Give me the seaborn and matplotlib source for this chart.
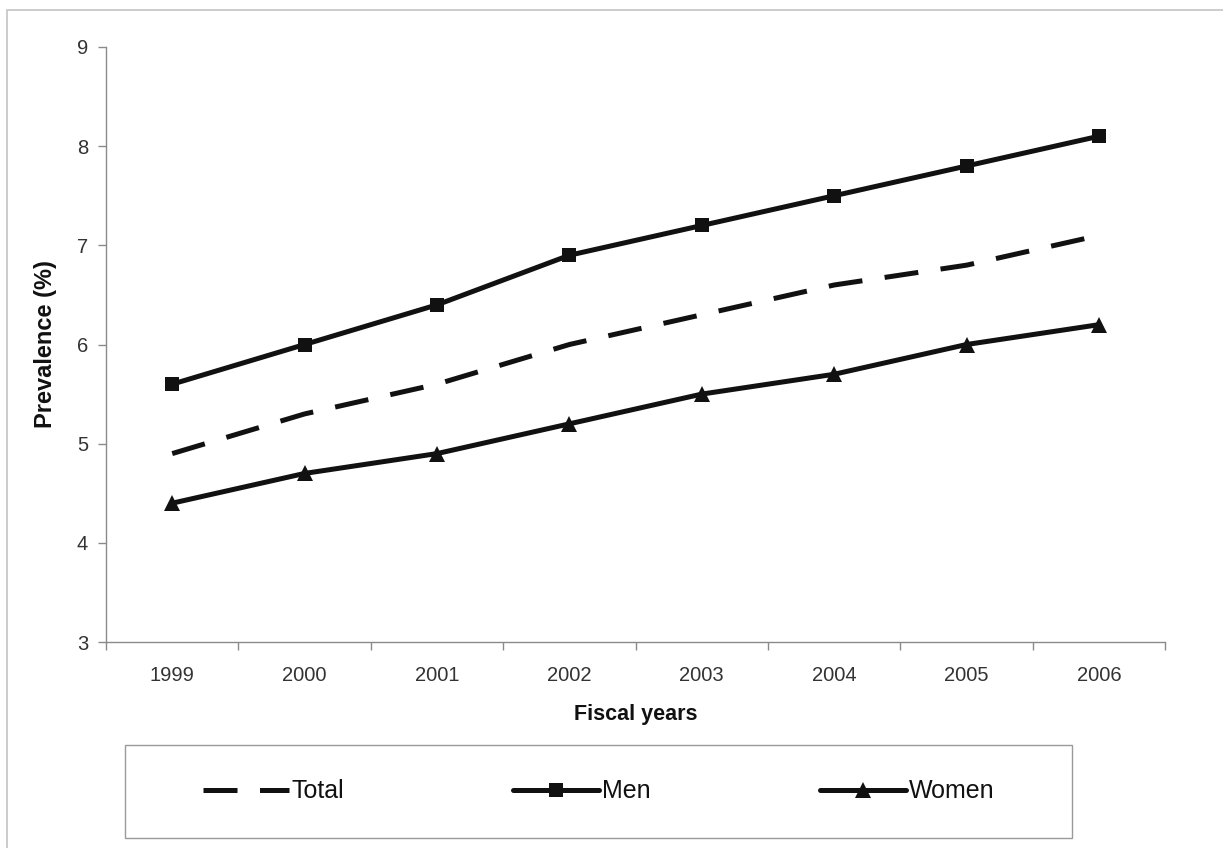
import matplotlib
matplotlib.use("Agg")
import matplotlib.pyplot as plt
from matplotlib.patches import Rectangle
from matplotlib.lines import Line2D
import seaborn as sns
import pandas as pd

# Prevalence by fiscal year (%)
years = [1999, 2000, 2001, 2002, 2003, 2004, 2005, 2006]
total = [4.9, 5.3, 5.6, 6.0, 6.3, 6.6, 6.8, 7.1]
men = [5.6, 6.0, 6.4, 6.9, 7.2, 7.5, 7.8, 8.1]
women = [4.4, 4.7, 4.9, 5.2, 5.5, 5.7, 6.0, 6.2]
series_names = ["Total", "Men", "Women"]
y_ticks = [3, 4, 5, 6, 7, 8, 9]

df = pd.DataFrame({
    "year": years * 3,
    "value": total + men + women,
    "series": [s for s in series_names for _ in years],
})

sns.set_theme(style="white")
plt.rcParams["font.family"] = ["Liberation Sans", "DejaVu Sans"]

fig = plt.figure(figsize=(12.23, 8.48), dpi=100)
ax = fig.add_axes([0.0867, 0.2429, 0.866, 0.7017])

ink = "#111111"
lw = 3.6
dash = (0, (6.8, 4.5))
styles = {
    "Total": dict(marker=None, linestyle=dash, markersize=0),
    "Men": dict(marker="s", linestyle="-", markersize=10.5),
    "Women": dict(marker="^", linestyle="-", markersize=11.5),
}

handles = []
for name in series_names:
    st = styles[name]
    sub = df[df["series"] == name]
    sns.lineplot(data=sub, x="year", y="value", color=ink, linewidth=lw,
                 marker=st["marker"], markersize=st["markersize"],
                 markeredgewidth=0, linestyle=st["linestyle"], ax=ax)
    handles.append(Line2D([], [], color=ink, linewidth=lw, linestyle=st["linestyle"],
                          marker=st["marker"], markersize=st["markersize"],
                          markeredgewidth=0))

ax.set_xlim(years[0] - 0.5, years[-1] + 0.5)
ax.set_ylim(y_ticks[0], y_ticks[-1])
ax.set_yticks(y_ticks)
ax.set_xticks(years)
ax.set_xticks([y - 0.5 for y in years] + [years[-1] + 0.5], minor=True)

for side in ["top", "right"]:
    ax.spines[side].set_visible(False)
for side in ["left", "bottom"]:
    ax.spines[side].set_color("#8a8a8a")
    ax.spines[side].set_linewidth(1.0)

ax.tick_params(axis="y", which="major", direction="out", length=6, width=1,
               color="#8a8a8a", labelsize=14.5, labelcolor="#333333", pad=7, left=True)
ax.tick_params(axis="x", which="major", length=0, labelsize=14.5,
               labelcolor="#333333", pad=17)
ax.tick_params(axis="x", which="minor", direction="out", length=6, width=1,
               color="#8a8a8a", bottom=True)

ax.set_xlabel("Fiscal years", fontsize=15.5, fontweight="bold", color="#111111", labelpad=14)
ax.set_ylabel("Prevalence (%)", fontsize=17, fontweight="bold", color="#111111", labelpad=14)

# Outer frame
fig.patches.append(Rectangle((0.0057, -0.02), 1.1, 1.008, transform=fig.transFigure,
                             fill=False, edgecolor="#c4c4c4", linewidth=1.2))

# Legend box
fig.patches.append(Rectangle((0.1022, 0.0118), 0.7744, 0.1097, transform=fig.transFigure,
                             fill=False, edgecolor="#9a9a9a", linewidth=1.0))
fig.legend(handles, series_names, loc="center", bbox_to_anchor=(0.4895, 0.0667),
           ncol=3, frameon=False, fontsize=18, handlelength=3.44,
           handletextpad=0.12, columnspacing=6.75, labelcolor="#111111")

fig.savefig("out.png", dpi=100, facecolor="white")
